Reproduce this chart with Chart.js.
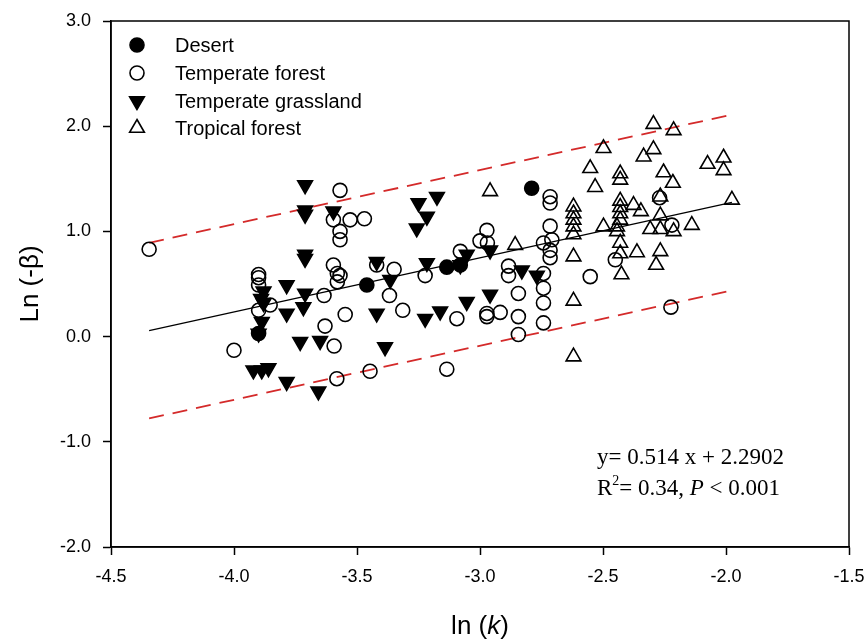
<!DOCTYPE html>
<html>
<head>
<meta charset="utf-8">
<script src="https://cdn.jsdelivr.net/npm/chart.js@4.4.1/dist/chart.umd.min.js"></script>
<style>
  html, body { margin: 0; padding: 0; background: #fff; }
  #wrap { width: 868px; height: 642px; }
</style>
</head>
<body>
<div id="wrap"><canvas id="myChart"></canvas></div>
<script>
// values: [ln(k), ln(-beta)]
const desert = [
  [-3.90, 0.03], [-3.46, 0.49], [-3.135, 0.66], [-3.08, 0.68], [-2.79, 1.41],
];
const temperateForest = [
  [-4.345, 0.83], [-4.00, -0.13], [-3.90, 0.59], [-3.90, 0.56], [-3.90, 0.49],
  [-3.90, 0.25], [-3.853, 0.30], [-3.634, 0.39], [-3.63, 0.10], [-3.548, 0.21],
  [-3.593, -0.09], [-3.582, -0.40], [-3.447, -0.33], [-3.569, 1.39], [-3.596, 1.11],
  [-3.528, 1.11], [-3.47, 1.12], [-3.569, 1.00], [-3.569, 0.92], [-3.596, 0.68],
  [-3.58, 0.60], [-3.569, 0.58], [-3.58, 0.52], [-3.42, 0.68], [-3.349, 0.64],
  [-3.368, 0.39], [-3.314, 0.25], [-3.223, 0.58], [-3.08, 0.81], [-3.00, 0.91],
  [-2.97, 0.89], [-2.972, 1.01], [-2.884, 0.67], [-2.884, 0.58], [-2.844, 0.41],
  [-2.844, 0.19], [-2.844, 0.02], [-2.972, 0.22], [-2.972, 0.19], [-2.918, 0.23],
  [-3.094, 0.17], [-3.135, -0.31], [-2.715, 1.33], [-2.715, 1.27], [-2.715, 1.05],
  [-2.742, 0.89], [-2.708, 0.92], [-2.715, 0.82], [-2.715, 0.75], [-2.742, 0.60],
  [-2.742, 0.46], [-2.742, 0.32], [-2.742, 0.13], [-2.552, 0.57], [-2.45, 0.73],
  [-2.27, 1.32], [-2.22, 1.06], [-2.224, 0.28],
];
const temperateGrassland = [
  [-3.711, 1.44], [-3.711, 1.20], [-3.711, 1.16], [-3.596, 1.19], [-3.711, 0.78],
  [-3.711, 0.74], [-3.42, 0.71], [-3.365, 0.54], [-3.88, 0.43], [-3.89, 0.36],
  [-3.88, 0.32], [-3.786, 0.49], [-3.711, 0.41], [-3.718, 0.28], [-3.786, 0.22],
  [-3.887, 0.14], [-3.90, 0.03], [-3.731, -0.05], [-3.65, -0.04], [-3.42, 0.22],
  [-3.386, -0.10], [-3.921, -0.32], [-3.887, -0.32], [-3.86, -0.30], [-3.786, -0.43],
  [-3.657, -0.52], [-3.25, 1.27], [-3.175, 1.33], [-3.216, 1.14], [-3.257, 1.03],
  [-3.216, 0.70], [-3.054, 0.78], [-3.08, 0.68], [-2.959, 0.82], [-2.83, 0.63],
  [-2.769, 0.58], [-3.054, 0.33], [-2.959, 0.40], [-3.162, 0.24], [-3.223, 0.17],
];
const tropicalForest = [
  [-2.959, 1.38], [-2.857, 0.87], [-2.62, 1.235], [-2.62, 1.17], [-2.62, 1.11],
  [-2.62, 1.045], [-2.62, 0.97], [-2.62, 0.76], [-2.62, 0.34], [-2.62, -0.19],
  [-2.552, 1.60], [-2.532, 1.42], [-2.498, 1.79], [-2.498, 1.045], [-2.43, 1.55],
  [-2.43, 1.49], [-2.43, 1.29], [-2.43, 1.23], [-2.43, 1.17], [-2.43, 1.11],
  [-2.443, 1.045], [-2.443, 1.00], [-2.43, 0.89], [-2.43, 0.79], [-2.425, 0.59],
  [-2.376, 1.25], [-2.346, 1.19], [-2.362, 0.80], [-2.335, 1.71], [-2.295, 2.02],
  [-2.295, 1.78], [-2.308, 1.02], [-2.284, 0.68], [-2.267, 1.33], [-2.267, 1.15],
  [-2.267, 1.02], [-2.267, 0.81], [-2.254, 1.56], [-2.213, 1.96], [-2.216, 1.46],
  [-2.213, 1.00], [-2.139, 1.06], [-2.075, 1.64], [-2.01, 1.70], [-2.01, 1.58],
  [-1.976, 1.30],
];
// fitted line and the two dashed bounds, end points
const fitLine = [[-4.345, 0.057], [-1.976, 1.275]];
const upperBound = [[-4.345, 0.892], [-1.976, 2.11]];
const lowerBound = [[-4.345, -0.778], [-1.976, 0.44]];

const xTicks = [-4.5, -4.0, -3.5, -3.0, -2.5, -2.0, -1.5];
const yTicks = [-2.0, -1.0, 0.0, 1.0, 2.0, 3.0];

const toPts = arr => arr.map(p => ({ x: p[0], y: p[1] }));

function markerSet(label, data, style, filled, rotation) {
  return {
    label,
    data: toPts(data),
    showLine: false,
    pointStyle: style,
    rotation: rotation || 0,
    pointRadius: style === 'circle' ? 7 : 8.5,
    pointBorderWidth: 1.6,
    pointBorderColor: '#000',
    pointBackgroundColor: filled ? '#000' : 'rgba(0,0,0,0)',
    order: 1,
  };
}

function lineSet(data, color, width, dash) {
  return {
    label: '',
    data: toPts(data),
    showLine: true,
    borderColor: color,
    borderWidth: width,
    borderDash: dash,
    pointRadius: 0,
    order: 5,
  };
}

const markerSets = [
  markerSet('Desert', desert, 'circle', true),
  markerSet('Temperate forest', temperateForest, 'circle', false),
  markerSet('Temperate grassland', temperateGrassland, 'triangle', true, 180),
  markerSet('Tropical forest', tropicalForest, 'triangle', false),
];

// legend, frame, x title and the fit text
const extras = {
  id: 'extras',
  afterDraw(chart) {
    const { ctx, chartArea: a } = chart;
    ctx.save();
    ctx.strokeStyle = '#000';
    ctx.lineWidth = 1.5;
    ctx.strokeRect(a.left, a.top, a.right - a.left, a.bottom - a.top);

    // legend
    const rows = [45, 73, 101, 128];
    markerSets.forEach((ds, i) => {
      ctx.fillStyle = ds.pointBackgroundColor;
      ctx.strokeStyle = '#000';
      ctx.lineWidth = 1.6;
      Chart.helpers.drawPoint(ctx, {
        pointStyle: ds.pointStyle, radius: ds.pointRadius,
        rotation: ds.rotation, borderWidth: 1.6,
      }, 137, rows[i]);
      ctx.fillStyle = '#000';
      ctx.font = '20px "Liberation Sans", Arial, sans-serif';
      ctx.textBaseline = 'middle';
      ctx.textAlign = 'left';
      ctx.fillText(ds.label, 175, rows[i] + 1);
    });

    // x axis title with italic k
    ctx.textBaseline = 'alphabetic';
    const f1 = '26px "Liberation Sans", Arial, sans-serif';
    const f2 = 'italic 26px "Liberation Sans", Arial, sans-serif';
    const parts = [['ln (', f1], ['k', f2], [')', f1]];
    let w = 0;
    parts.forEach(p => { ctx.font = p[1]; w += ctx.measureText(p[0]).width; });
    let x = (a.left + a.right) / 2 - w / 2;
    parts.forEach(p => { ctx.font = p[1]; ctx.fillText(p[0], x, 634); x += ctx.measureText(p[0]).width; });

    // equation text
    const serif = '23px "Liberation Serif", "Times New Roman", serif';
    ctx.font = serif;
    ctx.fillText('y= 0.514 x + 2.2902', 597, 464);
    x = 597;
    ctx.fillText('R', x, 495); x += ctx.measureText('R').width;
    ctx.font = '14px "Liberation Serif", serif';
    ctx.fillText('2', x, 485); x += ctx.measureText('2').width;
    ctx.font = serif;
    ctx.fillText('= 0.34, ', x, 495); x += ctx.measureText('= 0.34, ').width;
    ctx.font = 'italic 23px "Liberation Serif", serif';
    ctx.fillText('P', x, 495); x += ctx.measureText('P').width;
    ctx.font = serif;
    ctx.fillText(' < 0.001', x, 495);
    ctx.restore();
  },
};

new Chart('myChart', {
  type: 'scatter',
  data: {
    datasets: [
      ...markerSets,
      lineSet(fitLine, '#000', 1.3, []),
      lineSet(upperBound, '#d42a2a', 1.8, [15, 9]),
      lineSet(lowerBound, '#d42a2a', 1.8, [15, 9]),
    ],
  },
  options: {
    responsive: true,
    maintainAspectRatio: false,
    animation: false,
    layout: { padding: { top: 21, right: 19, left: 0, bottom: 0 } },
    plugins: { legend: { display: false }, tooltip: { enabled: false } },
    scales: {
      x: {
        type: 'linear',
        min: -4.5,
        max: -1.5,
        afterBuildTicks: s => { s.ticks = xTicks.map(v => ({ value: v })); },
        afterFit: s => { s.height = 95; s.paddingLeft = 0; s.paddingRight = 0; },
        ticks: {
          callback: v => v.toFixed(1),
          color: '#000',
          font: { family: '"Liberation Sans", Arial, sans-serif', size: 18 },
          padding: 11,
          maxRotation: 0,
        },
        grid: { drawOnChartArea: false, tickLength: 8, tickColor: '#000', tickWidth: 1.5 },
        border: { color: '#000', width: 1.5 },
      },
      y: {
        type: 'linear',
        min: -2,
        max: 3,
        afterBuildTicks: s => { s.ticks = yTicks.map(v => ({ value: v })); },
        afterFit: s => { s.width = 111; s.paddingTop = 0; s.paddingBottom = 0; },
        ticks: {
          callback: v => v.toFixed(1),
          color: '#000',
          font: { family: '"Liberation Sans", Arial, sans-serif', size: 18 },
          padding: 12,
        },
        grid: { drawOnChartArea: false, tickLength: 8, tickColor: '#000', tickWidth: 1.5 },
        border: { color: '#000', width: 1.5 },
        title: {
          display: true,
          text: 'Ln (-β)',
          color: '#000',
          font: { family: '"Liberation Sans", Arial, sans-serif', size: 26 },
          padding: { top: 15, bottom: 0 },
        },
      },
    },
  },
  plugins: [extras],
});
</script>
</body>
</html>
